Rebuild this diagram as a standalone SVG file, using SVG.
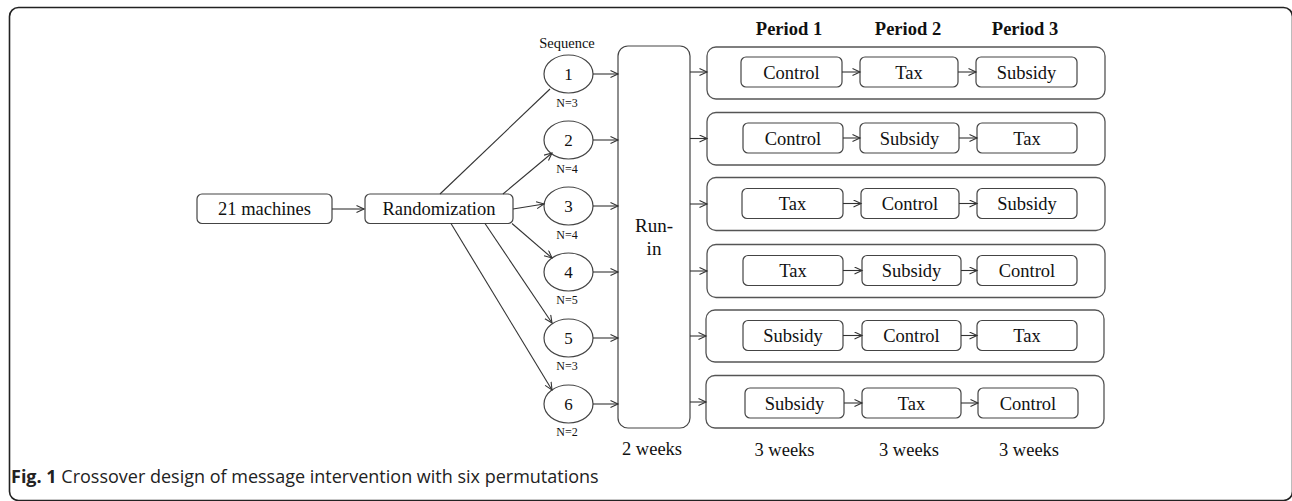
<svg xmlns="http://www.w3.org/2000/svg" width="1292" height="501" viewBox="0 0 1292 501">
<style>
.t{font-family:"Liberation Serif","Times New Roman",serif;fill:#111;text-anchor:middle}
.b{font-size:18.5px}
.h{font-size:18.5px;font-weight:bold}
.s{font-size:12px}
.box{fill:#fff;stroke:#444;stroke-width:1.2}
.row{fill:#fff;stroke:#555;stroke-width:1.3}
.ln{stroke:#333;stroke-width:1.1;fill:none}
.cap{font-family:"Open Sans","Liberation Sans",sans-serif;font-size:18px;fill:#222}
</style>
<defs>
<marker id="ah" markerUnits="userSpaceOnUse" markerWidth="10" markerHeight="10" refX="8" refY="4" orient="auto">
<path d="M0.5,0.5 L8,4 L0.5,7.5" fill="none" stroke="#333" stroke-width="1.1"/>
</marker>
</defs>
<rect x="9.5" y="7.5" width="1283" height="493" rx="9" fill="#fff" stroke="#222" stroke-width="1.6"/>

<g id="headers">
<text class="t h" x="789" y="35">Period 1</text>
<text class="t h" x="908" y="35">Period 2</text>
<text class="t h" x="1025" y="35">Period 3</text>
<text class="t" style="font-size:14.5px" x="567" y="48">Sequence</text>
</g>

<g id="machines"><rect class="box" x="197" y="194" width="135" height="29.5" rx="5"/><text class="t b" x="264.5" y="215">21 machines</text></g>
<g id="randomization"><rect class="box" x="365" y="194" width="148" height="29.5" rx="5"/><text class="t b" x="439" y="215">Randomization</text></g>

<g id="seq1"><ellipse class="box" cx="568.5" cy="74" rx="24.5" ry="19"/><text class="t" style="font-size:17px" x="568.5" y="80">1</text><text class="t s" x="567" y="107">N=3</text></g>
<g id="seq2"><ellipse class="box" cx="568.5" cy="140" rx="24.5" ry="19"/><text class="t" style="font-size:17px" x="568.5" y="146">2</text><text class="t s" x="567" y="173">N=4</text></g>
<g id="seq3"><ellipse class="box" cx="568.5" cy="206" rx="24.5" ry="19"/><text class="t" style="font-size:17px" x="568.5" y="212">3</text><text class="t s" x="567" y="239">N=4</text></g>
<g id="seq4"><ellipse class="box" cx="568.5" cy="272" rx="24.5" ry="19"/><text class="t" style="font-size:17px" x="568.5" y="278">4</text><text class="t s" x="567" y="304">N=5</text></g>
<g id="seq5"><ellipse class="box" cx="568.5" cy="338" rx="24.5" ry="19"/><text class="t" style="font-size:17px" x="568.5" y="344">5</text><text class="t s" x="567" y="370">N=3</text></g>
<g id="seq6"><ellipse class="box" cx="568.5" cy="404" rx="24.5" ry="19"/><text class="t" style="font-size:17px" x="568.5" y="410">6</text><text class="t s" x="567" y="436">N=2</text></g>

<g id="runin"><rect class="box" x="618" y="46" width="72" height="382" rx="10"/><text class="t" style="font-size:19px" x="654" y="232">Run-</text><text class="t" style="font-size:19px" x="654" y="255">in</text><text class="t b" x="652" y="455">2 weeks</text></g>

<g id="row1"><rect class="row" x="707" y="47" width="398" height="52" rx="9"/>
<rect class="box" x="741" y="57" width="101" height="30" rx="5"/><text class="t b" x="791.5" y="78.5">Control</text>
<rect class="box" x="860" y="57" width="98" height="30" rx="5"/><text class="t b" x="909" y="78.5">Tax</text>
<rect class="box" x="976" y="57" width="101" height="30" rx="5"/><text class="t b" x="1026.5" y="78.5">Subsidy</text></g>
<g id="row2"><rect class="row" x="707" y="112.5" width="398" height="52.5" rx="9"/>
<rect class="box" x="743" y="123" width="100" height="30" rx="5"/><text class="t b" x="793" y="144.5">Control</text>
<rect class="box" x="860" y="123" width="99" height="30" rx="5"/><text class="t b" x="909.5" y="144.5">Subsidy</text>
<rect class="box" x="977" y="123" width="100" height="30" rx="5"/><text class="t b" x="1027" y="144.5">Tax</text></g>
<g id="row3"><rect class="row" x="707" y="177.5" width="398" height="53" rx="9"/>
<rect class="box" x="742" y="188.5" width="101" height="30" rx="5"/><text class="t b" x="792.5" y="210">Tax</text>
<rect class="box" x="861" y="188.5" width="98" height="30" rx="5"/><text class="t b" x="910" y="210">Control</text>
<rect class="box" x="977" y="188.5" width="100" height="30" rx="5"/><text class="t b" x="1027" y="210">Subsidy</text></g>
<g id="row4"><rect class="row" x="707" y="244.5" width="398" height="53" rx="9"/>
<rect class="box" x="743" y="255.5" width="100" height="30" rx="5"/><text class="t b" x="793" y="277">Tax</text>
<rect class="box" x="862" y="255.5" width="99" height="30" rx="5"/><text class="t b" x="911.5" y="277">Subsidy</text>
<rect class="box" x="977" y="255.5" width="100" height="30" rx="5"/><text class="t b" x="1027" y="277">Control</text></g>
<g id="row5"><rect class="row" x="706" y="310" width="398" height="52" rx="9"/>
<rect class="box" x="743" y="320.5" width="100" height="30" rx="5"/><text class="t b" x="793" y="342">Subsidy</text>
<rect class="box" x="862" y="320.5" width="99" height="30" rx="5"/><text class="t b" x="911.5" y="342">Control</text>
<rect class="box" x="977" y="320.5" width="100" height="30" rx="5"/><text class="t b" x="1027" y="342">Tax</text></g>
<g id="row6"><rect class="row" x="706" y="375.5" width="398" height="52.5" rx="9"/>
<rect class="box" x="745" y="388" width="99" height="30" rx="5"/><text class="t b" x="794.5" y="409.5">Subsidy</text>
<rect class="box" x="862" y="388" width="99" height="30" rx="5"/><text class="t b" x="911.5" y="409.5">Tax</text>
<rect class="box" x="978" y="388" width="100" height="30" rx="5"/><text class="t b" x="1028" y="409.5">Control</text></g>

<g id="durations">
<text class="t b" x="784.5" y="455.5">3 weeks</text>
<text class="t b" x="909" y="455.5">3 weeks</text>
<text class="t b" x="1029" y="455.5">3 weeks</text>
</g>

<g id="connectors">
<line class="ln" x1="332" y1="209" x2="364" y2="209" marker-end="url(#ah)"/>
<line class="ln" x1="440" y1="194" x2="550" y2="89"/>
<line class="ln" x1="503" y1="194" x2="552" y2="153" marker-end="url(#ah)"/>
<line class="ln" x1="513" y1="209" x2="544" y2="204" marker-end="url(#ah)"/>
<line class="ln" x1="512" y1="223.5" x2="552" y2="258" marker-end="url(#ah)"/>
<line class="ln" x1="485" y1="223.5" x2="552" y2="323" marker-end="url(#ah)"/>
<line class="ln" x1="451" y1="223.5" x2="552" y2="390" marker-end="url(#ah)"/>
<line class="ln" x1="593" y1="74" x2="618" y2="74" marker-end="url(#ah)"/>
<line class="ln" x1="593" y1="140" x2="618" y2="140" marker-end="url(#ah)"/>
<line class="ln" x1="593" y1="206" x2="618" y2="206" marker-end="url(#ah)"/>
<line class="ln" x1="593" y1="272" x2="618" y2="272" marker-end="url(#ah)"/>
<line class="ln" x1="593" y1="338" x2="618" y2="338" marker-end="url(#ah)"/>
<line class="ln" x1="593" y1="404" x2="618" y2="404" marker-end="url(#ah)"/>
<line class="ln" x1="690" y1="72" x2="707" y2="72" marker-end="url(#ah)"/>
<line class="ln" x1="690" y1="138.5" x2="707" y2="138.5" marker-end="url(#ah)"/>
<line class="ln" x1="690" y1="204" x2="707" y2="204" marker-end="url(#ah)"/>
<line class="ln" x1="690" y1="271" x2="707" y2="271" marker-end="url(#ah)"/>
<line class="ln" x1="690" y1="336" x2="706" y2="336" marker-end="url(#ah)"/>
<line class="ln" x1="690" y1="402" x2="706" y2="402" marker-end="url(#ah)"/>
<line class="ln" x1="842" y1="72" x2="860" y2="72" marker-end="url(#ah)"/>
<line class="ln" x1="958" y1="72" x2="976" y2="72" marker-end="url(#ah)"/>
<line class="ln" x1="843" y1="138" x2="860" y2="138" marker-end="url(#ah)"/>
<line class="ln" x1="959" y1="138" x2="977" y2="138" marker-end="url(#ah)"/>
<line class="ln" x1="843" y1="203.5" x2="861" y2="203.5" marker-end="url(#ah)"/>
<line class="ln" x1="959" y1="203.5" x2="977" y2="203.5" marker-end="url(#ah)"/>
<line class="ln" x1="843" y1="270.5" x2="862" y2="270.5" marker-end="url(#ah)"/>
<line class="ln" x1="961" y1="270.5" x2="977" y2="270.5" marker-end="url(#ah)"/>
<line class="ln" x1="843" y1="335.5" x2="862" y2="335.5" marker-end="url(#ah)"/>
<line class="ln" x1="961" y1="335.5" x2="977" y2="335.5" marker-end="url(#ah)"/>
<line class="ln" x1="844" y1="403" x2="862" y2="403" marker-end="url(#ah)"/>
<line class="ln" x1="961" y1="403" x2="978" y2="403" marker-end="url(#ah)"/>
</g>

<g id="caption"><text class="cap" x="11" y="483"><tspan font-weight="bold">Fig. 1</tspan> Crossover design of message intervention with six permutations</text></g>
</svg>
